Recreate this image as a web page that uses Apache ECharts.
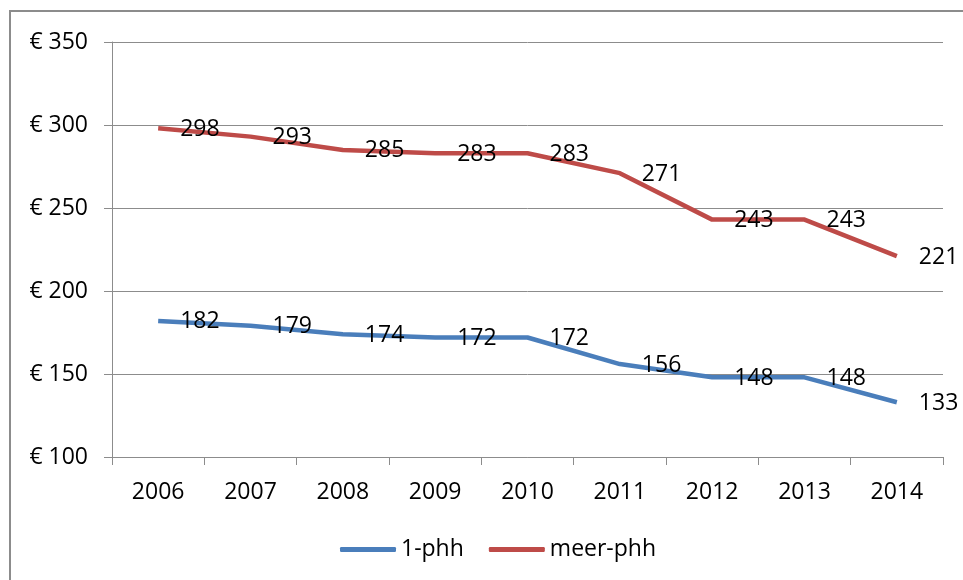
<!DOCTYPE html>
<html>
<head>
<meta charset="utf-8">
<script src="https://cdn.jsdelivr.net/npm/echarts@6/dist/echarts.min.js"></script>
<style>
  html, body { margin: 0; padding: 0; background: #fff; }
  #main { width: 963px; height: 580px; }
</style>
</head>
<body>
<div id="main"></div>
<script>
var years = ['2006', '2007', '2008', '2009', '2010', '2011', '2012', '2013', '2014'];
var eenPhh = [182, 179, 174, 172, 172, 156, 148, 148, 133];
var meerPhh = [298, 293, 285, 283, 283, 271, 243, 243, 221];

var FONT = 'Open Sans';
var chartDom = document.getElementById('main');
var myChart = echarts.init(chartDom);

var labelStyle = {
  show: true,
  position: 'right',
  distance: 22,
  offset: [0, 1],
  color: '#000',
  fontFamily: FONT,
  fontSize: 23
};

var option = {
  animation: false,
  textStyle: { fontFamily: FONT },
  graphic: [
    {
      type: 'rect',
      shape: { x: 10, y: 11, width: 980, height: 600 },
      style: { fill: 'none', stroke: '#8c8c8c', lineWidth: 2 },
      silent: true
    }
  ],
  grid: { left: 112, right: 20, top: 42, bottom: 123 },
  legend: {
    bottom: 14,
    left: 335,
    itemWidth: 56,
    itemHeight: 5,
    itemGap: 25,
    icon: 'roundRect',
    textStyle: { color: '#000', fontFamily: FONT, fontSize: 23 },
    data: ['1-phh', 'meer-phh']
  },
  xAxis: {
    type: 'category',
    data: years,
    boundaryGap: true,
    axisLine: { lineStyle: { color: '#8c8c8c', width: 1 } },
    axisTick: { show: true, length: 8, lineStyle: { color: '#8c8c8c' } },
    axisLabel: { color: '#000', fontFamily: FONT, fontSize: 23, margin: 24 }
  },
  yAxis: {
    type: 'value',
    min: 100,
    max: 350,
    interval: 50,
    axisLine: { show: true, lineStyle: { color: '#8c8c8c', width: 1 } },
    axisTick: { show: true, length: 8, lineStyle: { color: '#8c8c8c' } },
    splitLine: { lineStyle: { color: '#8c8c8c', width: 1 } },
    axisLabel: {
      color: '#000',
      fontFamily: FONT,
      fontSize: 23,
      margin: 24,
      formatter: '€ {value}'
    }
  },
  series: [
    {
      name: '1-phh',
      type: 'line',
      data: eenPhh,
      symbol: 'circle',
      symbolSize: 0,
      showSymbol: true,
      color: '#4a7ebb',
      lineStyle: { width: 4.5, color: '#4a7ebb' },
      label: labelStyle
    },
    {
      name: 'meer-phh',
      type: 'line',
      data: meerPhh,
      symbol: 'circle',
      symbolSize: 0,
      showSymbol: true,
      color: '#be4b48',
      lineStyle: { width: 4.5, color: '#be4b48' },
      label: labelStyle
    }
  ]
};

option && myChart.setOption(option);
</script>
</body>
</html>
